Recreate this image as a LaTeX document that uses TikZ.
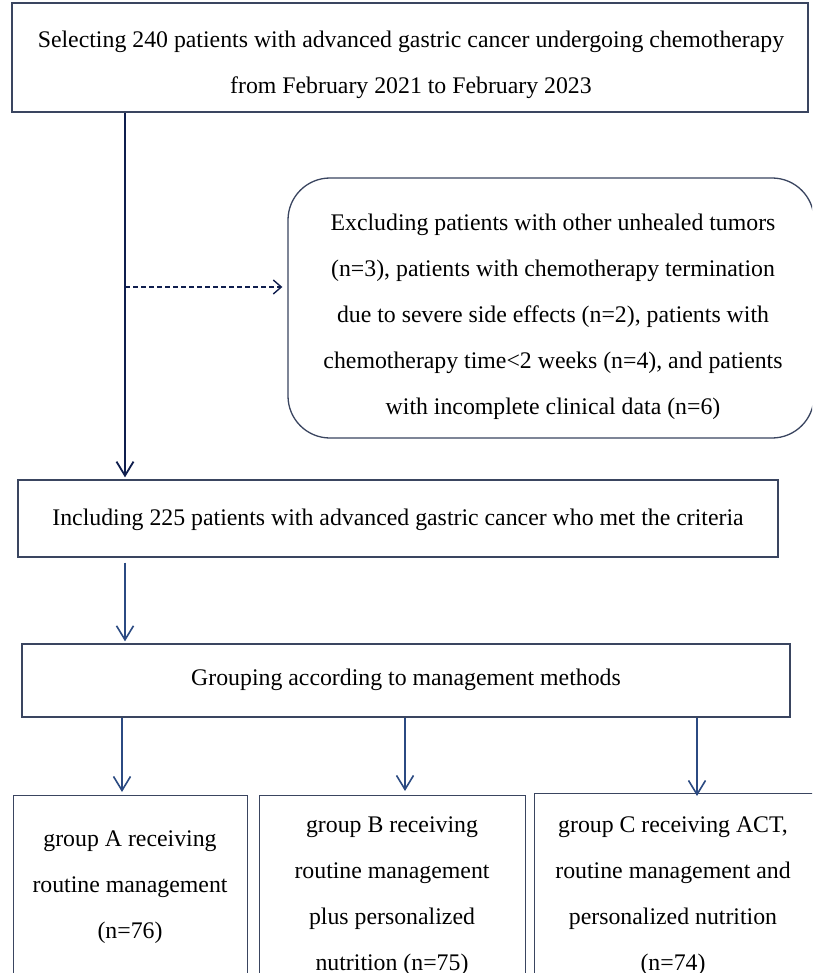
\documentclass[tikz,border=0pt]{standalone}
\usepackage{fontspec}
\setmainfont{Liberation Serif}
\usetikzlibrary{arrows.meta}
\definecolor{boxline}{HTML}{3A4560}
\definecolor{mainline}{HTML}{0F1E4E}
\definecolor{arrowline}{HTML}{2B4A82}
\tikzset{
  boxshape/.style={draw=boxline, line width=1.3pt, inner sep=0pt},
  txt/.style={font=\fontsize{23.8}{46}\selectfont, align=center, inner sep=0pt, text=black},
  mainarrow/.style={draw=mainline, line width=2pt, -{Straight Barb[length=14pt,width=17pt,line width=1.8pt]}},
  flowarrow/.style={draw=arrowline, line width=1.6pt, -{Straight Barb[length=14pt,width=17pt,line width=1.6pt]}},
  dasharrow/.style={draw=mainline, line width=1.3pt, dashed, dash pattern=on 5pt off 3pt, -{Straight Barb[length=8pt,width=14pt,line width=1.4pt]}}
}
\begin{document}
\begin{tikzpicture}[x=1pt,y=-1pt]
\useasboundingbox (0,0) rectangle (812,973);
\clip (0,0) rectangle (812,973);
\fill[white] (0,0) rectangle (812,973);

% boxes
\node[boxshape, minimum width=796pt, minimum height=109pt] (top) at (410,57.5) {};
\node[boxshape, rounded corners=42pt, minimum width=526pt, minimum height=260pt] (excl) at (551,308) {};
\node[boxshape, minimum width=760pt, minimum height=77pt] (incl) at (398,518.5) {};
\node[boxshape, minimum width=768pt, minimum height=73pt] (grp) at (406,680.5) {};
\node[boxshape, minimum width=234pt, minimum height=200pt, anchor=north west] (ga) at (13,795) {};
\node[boxshape, minimum width=266pt, minimum height=200pt, anchor=north west] (gb) at (259,795) {};
\node[boxshape, minimum width=282pt, minimum height=200pt, anchor=north west] (gc) at (534,793) {};

% texts
\node[txt] (ttop) at (411,65) {Selecting 240 patients with advanced gastric cancer undergoing chemotherapy\\from February 2021 to February 2023};
\node[txt] (texcl) at (553,317) {Excluding patients with other unhealed tumors\\(n=3), patients with chemotherapy termination\\due to severe side effects (n=2), patients with\\chemotherapy time\textless 2 weeks (n=4), and patients\\with incomplete clinical data (n=6)};
\node[txt] (tincl) at (398,520) {Including 225 patients with advanced gastric cancer who met the criteria};
\node[txt] (tgrp) at (406,680) {Grouping according to management methods};
\node[txt] (tga) at (130,887) {group A receiving\\routine management\\(n=76)};
\node[txt] (tgb) at (392,896) {group B receiving\\routine management\\plus personalized\\nutrition (n=75)};
\node[txt] (tgc) at (673,896) {group C receiving ACT,\\routine management and\\personalized nutrition\\(n=74)};

% connector x positions
\coordinate (xm) at (125,0);
\coordinate (xa) at (122,0);
\coordinate (xb) at (405,0);
\coordinate (xc) at (697,0);
\coordinate (dstart) at (125,287);

% connectors
\draw[mainarrow] (top.south -| xm) -- ([yshift=2pt]incl.north -| xm);
\draw[dasharrow] (dstart) -- ([xshift=-5pt]excl.west |- dstart);
\draw[flowarrow] ([yshift=-5pt]incl.south -| xm) -- ([yshift=2pt]grp.north -| xm);
\draw[flowarrow] (grp.south -| xa) -- ([yshift=3pt]ga.north -| xa);
\draw[flowarrow] (grp.south -| xb) -- ([yshift=4pt]gb.north -| xb);
\draw[flowarrow] (grp.south -| xc) -- ([yshift=-3pt]gc.north -| xc);
\end{tikzpicture}
\end{document}
